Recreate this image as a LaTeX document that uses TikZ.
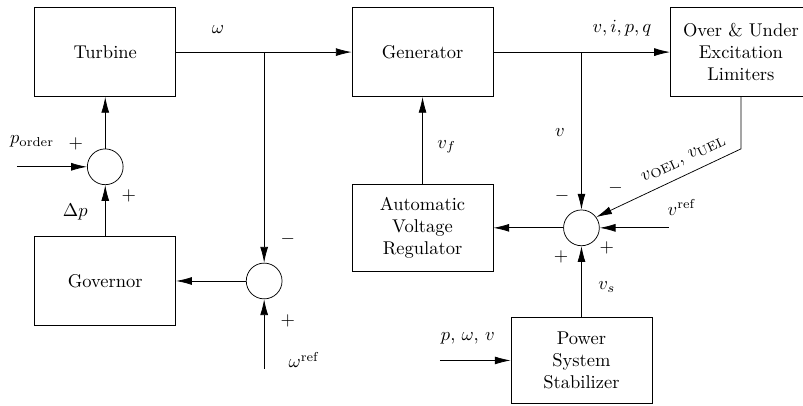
\documentclass[tikz,border=0pt]{standalone}
\usepackage{tikz}
\usetikzlibrary{arrows.meta}

\begin{document}
\begin{tikzpicture}[block/.style = {draw, minimum width=2.68cm, minimum height=1.69cm, align=center},
	sum/.style = {draw, circle, minimum size=0.68cm, inner sep=0pt},
	sig/.style = {-{Latex[length=3mm,width=1.5mm]}}]
				\useasboundingbox (0,0) rectangle (15.26,7.71);
				\begin{scope}[every node/.style={block}]
					\node (turb) at (2.00,6.72) {Turbine};
					\node (gen) at (8.03,6.72) {Generator};
					\node (ouel) at (14.08,6.72) {Over \& Under\\Excitation\\Limiters};
					\node (gov) at (2.00,2.37) {Governor};
					\node[minimum height=1.67cm] (avr) at (8.03,3.38) {Automatic\\Voltage\\Regulator};
					\node[minimum height=1.65cm] (pss) at (11.05,0.86) {Power\\System\\Stabilizer};
				\end{scope}
				\begin{scope}[every node/.style={sum}]
					\node (sump) at (2.00,4.54) {};
					\node (sumw) at (5.02,2.37) {};
					\node (sumv) at (11.05,3.38) {};
				\end{scope}
				\coordinate (wbr) at (5.02,6.72);
				\coordinate (vbr) at (11.05,6.72);
				\coordinate (oelc) at (14.08,4.88);
				\coordinate (pin) at (0.32,4.54);
				\coordinate (wref) at (5.02,0.70);
				\coordinate (vref) at (12.71,3.38);
				\coordinate (pssin) at (8.36,0.86);
				\draw [sig] (turb) -- (gen);
				\draw [sig] (gen) -- (ouel);
				\draw [sig] (wbr) -- (sumw);
				\draw [sig] (wref) -- (sumw);
				\draw [sig] (sumw) -- (gov);
				\draw [sig] (gov) -- (sump);
				\draw [sig] (pin) -- (sump);
				\draw [sig] (sump) -- (turb);
				\draw [sig] (avr) -- (gen);
				\draw [sig] (vbr) -- (sumv);
				\draw [sig] (ouel.south) -- (oelc) -- (sumv.36);
				\draw [sig] (vref) -- (sumv);
				\draw [sig] (sumv) -- (avr);
				\draw [sig] (pss) -- (sumv);
				\draw [sig] (pssin) -- (pss);
				% signal labels
				\node (lw) at (4.14,7.14) {$\omega$};
				\node (lvipq) at (11.82,7.18) {$v, i, p, q$};
				\node (lpord) at (0.61,5.02) {$p_{\mathrm{order}}$};
				\node (lpp1) at (1.44,4.98) {$+$};
				\node (lpp2) at (2.45,3.99) {$+$};
				\node (ldp) at (1.43,3.69) {$\Delta p$};
				\node (lwm) at (5.47,3.17) {$-$};
				\node (lwp) at (5.47,1.62) {$+$};
				\node[anchor=west] (lwref) at (5.36,0.87) {$\omega^{\mathrm{ref}}$};
				\node (lvf) at (8.49,4.92) {$v_f$};
				\node (lv) at (10.64,5.19) {$v$};
				\node (lvm1) at (10.68,3.99) {$-$};
				\node (lvm2) at (11.70,4.14) {$-$};
				\node (lvp1) at (10.66,2.83) {$+$};
				\node (lvp2) at (11.53,3.00) {$+$};
				\node (lvref) at (12.96,3.76) {$v^{\mathrm{ref}}$};
				\node (lvs) at (11.53,2.26) {$v_s$};
				\node (lpwv) at (8.89,1.29) {$p$, $\omega$, $v$};
				\node[rotate=25.4] (loel) at (13.00,4.68) {$v_{\mathrm{OEL}}$, $v_{\mathrm{UEL}}$};
			\end{tikzpicture}
\end{document}
